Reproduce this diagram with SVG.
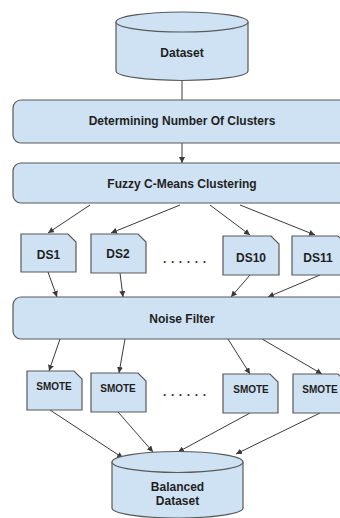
<svg xmlns="http://www.w3.org/2000/svg" width="340" height="518" viewBox="0 0 340 518">
<style>
.shape{fill:#cfe2f3;stroke:#595959;stroke-width:1.2}
.t{font-family:"Liberation Sans",Arial,sans-serif;font-weight:bold;font-size:12px;fill:#1f1f1f;text-anchor:middle;dominant-baseline:central}
.ts{font-size:10px}
.c{stroke:#3a3a3a;stroke-width:1;fill:none}
.a{marker-end:url(#ah)}
.dots{font-family:"Liberation Sans",Arial,sans-serif;font-weight:bold;font-size:12px;fill:#333;letter-spacing:4.6px}
</style>
<defs>
<marker id="ah" viewBox="0 0 10 10" refX="10" refY="5" markerWidth="6" markerHeight="6" markerUnits="userSpaceOnUse" orient="auto">
<path d="M0,0 L10,5 L0,10 Z" fill="#3a3a3a"/>
</marker>
</defs>
<rect width="340" height="518" fill="#ffffff"/>

<g id="connectors">
<line class="c" x1="182" y1="81" x2="182" y2="100"/>
<line class="c a" x1="182" y1="143" x2="182" y2="163"/>
<line class="c a" x1="90" y1="205" x2="48" y2="233"/>
<line class="c a" x1="180" y1="205" x2="111" y2="233"/>
<line class="c a" x1="210" y1="205" x2="250" y2="235"/>
<line class="c a" x1="240" y1="205" x2="315" y2="235"/>
<line class="c a" x1="48" y1="272" x2="57" y2="297"/>
<line class="c a" x1="120" y1="273" x2="123" y2="297"/>
<line class="c a" x1="250" y1="275" x2="231" y2="297"/>
<line class="c a" x1="320" y1="275" x2="268" y2="297"/>
<line class="c a" x1="60" y1="339" x2="49" y2="371"/>
<line class="c a" x1="125" y1="339" x2="119" y2="373"/>
<line class="c a" x1="228" y1="339" x2="250" y2="374"/>
<line class="c a" x1="262" y1="339" x2="322" y2="374"/>
<line class="c a" x1="50" y1="410" x2="123" y2="458"/>
<line class="c a" x1="118" y1="412" x2="153" y2="452"/>
<line class="c a" x1="250" y1="413" x2="178" y2="452"/>
<line class="c a" x1="320" y1="413" x2="236" y2="454"/>
</g>

<g id="dataset">
<path class="shape" d="M116,22 V71 A66,9.5 0 0 0 248,71 V22"/>
<ellipse class="shape" cx="182" cy="22" rx="66" ry="10"/>
<text class="t" x="182" y="53">Dataset</text>
</g>

<g id="determining">
<rect class="shape" x="13" y="100" width="340" height="43" rx="8"/>
<text class="t" x="182" y="121">Determining Number Of Clusters</text>
</g>

<g id="fcm">
<rect class="shape" x="13" y="163" width="340" height="40" rx="8"/>
<text class="t" x="182" y="184">Fuzzy C-Means Clustering</text>
</g>

<g id="ds1">
<path class="shape" d="M21,234 H68 L76,242 V272 H21 Z"/>
<text class="t" x="48.5" y="255">DS1</text>
</g>
<g id="ds2">
<path class="shape" d="M91,234 H138 L146,242 V273 H91 Z"/>
<text class="t" x="118" y="254">DS2</text>
</g>
<text class="dots" x="163" y="263">......</text>
<g id="ds10">
<path class="shape" d="M223,236 H271 L279,244 V275 H223 Z"/>
<text class="t" x="251" y="258">DS10</text>
</g>
<g id="ds11">
<path class="shape" d="M292,236 H338 L346,244 V275 H292 Z"/>
<text class="t" x="318" y="258">DS11</text>
</g>

<g id="noise">
<rect class="shape" x="13" y="297" width="340" height="42" rx="8"/>
<text class="t" x="182" y="319">Noise Filter</text>
</g>

<g id="smote1">
<path class="shape" d="M27,371 H74 L82,379 V410 H27 Z"/>
<text class="t ts" x="54" y="386">SMOTE</text>
</g>
<g id="smote2">
<path class="shape" d="M91,373 H138 L146,381 V412 H91 Z"/>
<text class="t ts" x="118" y="388">SMOTE</text>
</g>
<text class="dots" x="163" y="396">......</text>
<g id="smote3">
<path class="shape" d="M223,374 H270 L278,382 V413 H223 Z"/>
<text class="t ts" x="251" y="389">SMOTE</text>
</g>
<g id="smote4">
<path class="shape" d="M293,374 H338 L346,382 V413 H293 Z"/>
<text class="t ts" x="320" y="389">SMOTE</text>
</g>

<g id="balanced">
<path class="shape" d="M112,462 V508 A65.5,10 0 0 0 243,508 V462"/>
<ellipse class="shape" cx="177.5" cy="462" rx="65.5" ry="10.5"/>
<text class="t" x="177.5" y="487">Balanced</text>
<text class="t" x="177.5" y="501">Dataset</text>
</g>
</svg>
